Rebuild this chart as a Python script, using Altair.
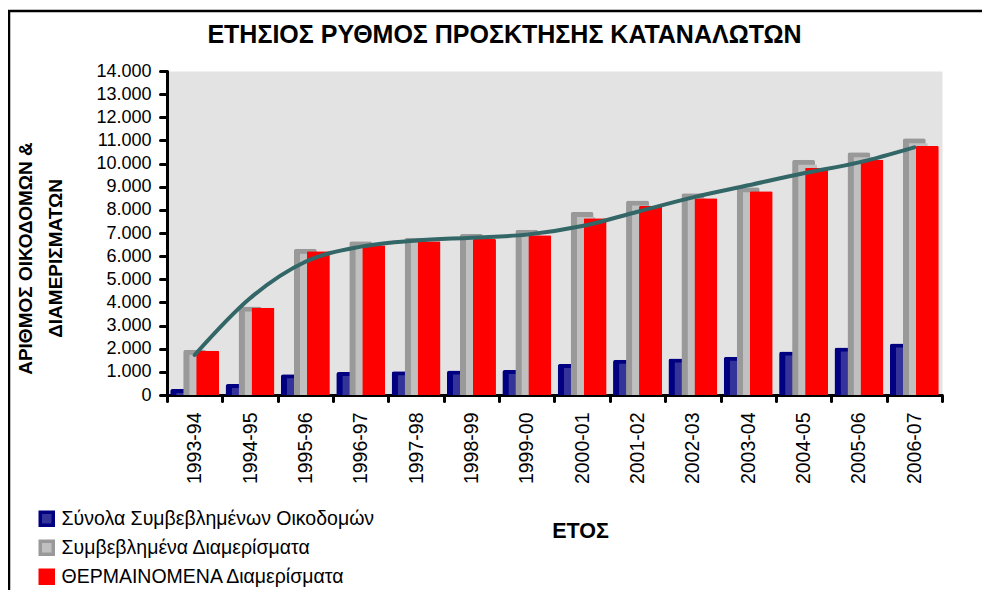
import altair as alt
import pandas as pd

years = ["1993-94", "1994-95", "1995-96", "1996-97", "1997-98", "1998-99", "1999-00",
         "2000-01", "2001-02", "2002-03", "2003-04", "2004-05", "2005-06", "2006-07"]
buildings = [260, 470, 900, 990, 1030, 1060, 1075, 1340, 1520, 1580, 1650, 1880, 2050, 2230]
contracted = [1950, 3820, 6320, 6640, 6800, 6960, 7140, 7910, 8400, 8720, 8980, 10160, 10490, 11090]
heated = [1910, 3770, 6210, 6470, 6640, 6740, 6900, 7640, 8170, 8500, 8800, 9820, 10160, 10760]
trend = [1730, 4180, 5760, 6410, 6680, 6800, 6930, 7300, 7920, 8540, 9060, 9580, 10050, 10700]

series_names = ["Σύνολα Συμβεβλημένων Οικοδομών", "Συμβεβλημένα Διαμερίσματα", "ΘΕΡΜΑΙΝΟΜΕΝΑ Διαμερίσματα"]
face_colors = ["#333399", "#C0C0C0", "#FF0000"]
edge_colors = ["#000080", "#999999", "#FF0000"]
y_ticks = [0, 1000, 2000, 3000, 4000, 5000, 6000, 7000, 8000, 9000, 10000, 11000, 12000, 13000, 14000]

FONT = "Liberation Sans"
W, H = 775, 324

df = pd.DataFrame({"year": years, "buildings": buildings, "contracted": contracted,
                   "heated": heated, "trend": trend})

base = alt.Chart(df)

x_enc = alt.X("year:N", sort=years, title="ΕΤΟΣ",
              scale=alt.Scale(paddingInner=0, paddingOuter=0),
              axis=alt.Axis(labelAngle=270, labelFontSize=19.5, labelFont=FONT, labelColor="black",
                            labelPadding=11, tickBand="extent", tickSize=6, tickWidth=3,
                            tickColor="black", tickCap="round", domainColor="black", domainWidth=3,
                            titleFont=FONT, titleFontSize=21.5, titleFontWeight="bold", titleColor="black",
                            titleX=413, titleY=136, titleBaseline="middle", titleAlign="center"))

def y_enc(field):
    return alt.Y(f"{field}:Q", title=["ΑΡΙΘΜΟΣ ΟΙΚΟΔΟΜΩΝ &", "ΔΙΑΜΕΡΙΣΜΑΤΩΝ"],
                 scale=alt.Scale(domain=[0, 14000], nice=False),
                 axis=alt.Axis(values=y_ticks, grid=False,
                               labelExpr="replace(format(datum.value, ','), ',', '.')",
                               labelFontSize=18, labelFont=FONT, labelColor="black", labelPadding=9,
                               tickSize=7, tickWidth=3, tickColor="black", tickCap="round",
                               domainColor="black", domainWidth=3,
                               titleFont=FONT, titleFontSize=19, titleFontWeight="bold", titleColor="black",
                               titleAngle=270, titleX=-142, titleY=187, titleAlign="center",
                               titleBaseline="middle", titleLineHeight=30))

legend = alt.Legend(title=None, orient="none", legendX=-130, legendY=438, direction="vertical",
                    symbolType="square", symbolSize=169, symbolStrokeWidth=3.5,
                    labelFont=FONT, labelFontSize=19.5, labelColor="black", labelOffset=5,
                    rowPadding=1, labelLimit=500)

fill_scale = alt.Scale(domain=series_names, range=face_colors)
stroke_scale = alt.Scale(domain=series_names, range=edge_colors)

def front(field, name, xoff, yoff, width):
    return base.transform_calculate(series=f"'{name}'").mark_bar(
        width=width, xOffset=xoff, yOffset=yoff, strokeWidth=0,
        cornerRadiusTopLeft=1.5, cornerRadiusTopRight=1.5).encode(
        x=x_enc, y=y_enc(field),
        fill=alt.Fill("series:N", scale=fill_scale, legend=legend),
        stroke=alt.Stroke("series:N", scale=stroke_scale, legend=legend),
    )

def back(field, color, xoff):
    return base.mark_bar(width=23, xOffset=xoff, color=color,
                         cornerRadiusTopLeft=2.5, cornerRadiusTopRight=2.5).encode(
        x=x_enc, y=y_enc(field))

frame = alt.Chart(pd.DataFrame({"k": [0]})).mark_rect(
    fill="transparent", stroke="black", strokeWidth=2.5).encode(
    x=alt.value(-158), x2=alt.value(W + 120), y=alt.value(-60), y2=alt.value(H + 300))

line = base.mark_line(color="#336666", strokeWidth=4, strokeCap="round",
                      interpolate="monotone").encode(x=x_enc, y=y_enc("trend"))

chart = alt.layer(
    frame,
    back("buildings", edge_colors[0], -13),
    front("buildings", series_names[0], -9, 4, 19),
    back("contracted", edge_colors[1], 0),
    front("contracted", series_names[1], 4, 5, 19),
    front("heated", series_names[2], 13, 0, 23),
    line,
).properties(
    width=W, height=H,
    title=alt.TitleParams("ΕΤΗΣΙΟΣ ΡΥΘΜΟΣ ΠΡΟΣΚΤΗΣΗΣ ΚΑΤΑΝΑΛΩΤΩΝ", font=FONT, fontSize=25,
                          fontWeight="bold", color="black", anchor="middle", frame="group",
                          dx=-50, offset=0, dy=38),
    autosize=alt.AutoSizeParams(type="none"),
    padding={"left": 159, "top": 63, "right": 40, "bottom": 195},
).configure_view(fill="#E3E3E3", stroke="transparent")

chart.save("out.html", embed_options={"renderer": "svg", "actions": False})
